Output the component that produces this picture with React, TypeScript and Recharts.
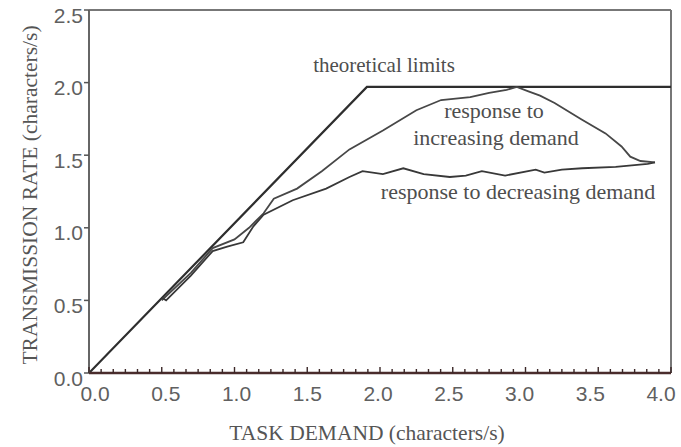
import React from "react"
import { LineChart, Line, XAxis, YAxis, ReferenceLine, Customized } from "recharts"

// theoretical ceiling: rate follows demand until it saturates
const theoryX = [0, 1.91, 4.0]
const theoryY = [0, 1.97, 1.97]

// measured rate while demand was being raised
const risingX = [0.5, 0.7, 0.85, 1.0, 1.1, 1.2, 1.27, 1.43, 1.6, 1.79, 2.02, 2.25, 2.42, 2.62, 2.75, 2.87, 2.94, 3.02, 3.1, 3.2, 3.38, 3.55, 3.66, 3.72, 3.79, 3.89]
const risingY = [0.5, 0.69, 0.86, 0.92, 1.0, 1.1, 1.2, 1.27, 1.39, 1.54, 1.67, 1.81, 1.88, 1.9, 1.93, 1.95, 1.97, 1.94, 1.91, 1.86, 1.75, 1.65, 1.56, 1.49, 1.46, 1.45]

// measured rate while demand was being lowered again
const fallingX = [0.5, 0.53, 0.7, 0.85, 0.95, 1.06, 1.13, 1.2, 1.4, 1.63, 1.79, 1.88, 2.02, 2.16, 2.3, 2.48, 2.59, 2.7, 2.86, 3.07, 3.13, 3.25, 3.39, 3.62, 3.84, 3.89]
const fallingY = [0.52, 0.5, 0.67, 0.84, 0.87, 0.9, 1.01, 1.09, 1.19, 1.27, 1.35, 1.39, 1.37, 1.41, 1.37, 1.35, 1.36, 1.39, 1.36, 1.4, 1.38, 1.4, 1.41, 1.42, 1.44, 1.45]

const xTicks = [0, 0.5, 1.0, 1.5, 2.0, 2.5, 3.0, 3.5, 4.0]
const yTicks = [0, 0.5, 1.0, 1.5, 2.0, 2.5]
const minorPerUnit = 12

const xTitle = "TASK DEMAND (characters/s)"
const yTitle = "TRANSMISSION RATE (characters/s)"

const toPoints = (xs: number[], ys: number[]) => xs.map((x, i) => ({ x, y: ys[i] }))

const minorTicks = Array.from({ length: 4 * minorPerUnit + 1 }, (_, i) => Number((i / minorPerUnit).toFixed(5)))

const SANS = "'Liberation Sans', Arial, sans-serif"
const SERIF = "'Liberation Serif', 'Times New Roman', serif"

function BottomTick(props: any) {
  const { x, y, payload } = props
  const v = payload.value as number
  const major = xTicks.some((t) => Math.abs(t - v) < 1e-4)
  // labels sit a little right of the tick at the left end, a little left at the right end
  const dx = 6 - 4 * v
  return (
    <g>
      <line x1={x} x2={x} y1={y} y2={y - (major ? 6 : 4)} stroke="#3b2727" strokeWidth={1.4} />
      {major && (
        <text x={x + dx} y={y + 20} textAnchor="middle" dominantBaseline="central" fontFamily={SANS} fontSize={21} fill="#606060">
          {v.toFixed(1)}
        </text>
      )}
    </g>
  )
}

function LeftTick(props: any) {
  const { x, y, payload } = props
  return (
    <text x={x} y={y + 5} textAnchor="end" dominantBaseline="central" fontFamily={SANS} fontSize={21} fill="#606060">
      {(payload.value as number).toFixed(1)}
    </text>
  )
}

function Notes() {
  const note = { fontFamily: SERIF, fontSize: 22, fill: "#4e4e4e", textAnchor: "middle" as const, dominantBaseline: "central" as const }
  return (
    <g>
      <text x={384} y={65} {...note} fontSize={21}>theoretical limits</text>
      <text x={494} y={110} {...note}>response to</text>
      <text x={496} y={137} {...note}>increasing demand</text>
      <text x={518} y={191} {...note}>response to decreasing demand</text>
      <text x={367} y={433} {...note} fontSize={21.5} fill="#555">{xTitle}</text>
      <text x={30} y={195} {...note} fontSize={21.5} fill="#555" transform="rotate(-90 30 195)">{yTitle}</text>
    </g>
  )
}

export default function App() {
  return (
    <div style={{ position: "absolute", left: 0, top: 0, background: "#fff" }}>
      <LineChart width={681} height={447} margin={{ top: 10, right: 10, bottom: 0, left: 0 }}>
        <XAxis
          dataKey="x"
          type="number"
          domain={[0, 4]}
          ticks={minorTicks}
          interval={0}
          tickSize={0}
          tickMargin={0}
          tickLine={false}
          tick={<BottomTick />}
          axisLine={{ stroke: "#4a2c2c", strokeWidth: 2.6 }}
          height={74}
          allowDataOverflow
        />
        <YAxis
          type="number"
          domain={[0, 2.5]}
          ticks={yTicks}
          interval={0}
          width={89}
          tickSize={5}
          tickMargin={1}
          tickLine={{ stroke: "#555", strokeWidth: 1.5 }}
          tick={<LeftTick />}
          axisLine={{ stroke: "#666", strokeWidth: 2 }}
          allowDataOverflow
        />
        <ReferenceLine y={2.5} stroke="#777" strokeWidth={2} />
        <ReferenceLine x={4} stroke="#777" strokeWidth={2} />
        <Line data={toPoints(theoryX, theoryY)} dataKey="y" type="linear" stroke="#2e2e2e" strokeWidth={2.2} dot={false} isAnimationActive={false} />
        <Line data={toPoints(risingX, risingY)} dataKey="y" type="linear" stroke="#474747" strokeWidth={1.8} dot={false} isAnimationActive={false} />
        <Line data={toPoints(fallingX, fallingY)} dataKey="y" type="linear" stroke="#383838" strokeWidth={1.8} dot={false} isAnimationActive={false} />
        <Customized component={<Notes />} />
      </LineChart>
    </div>
  )
}
